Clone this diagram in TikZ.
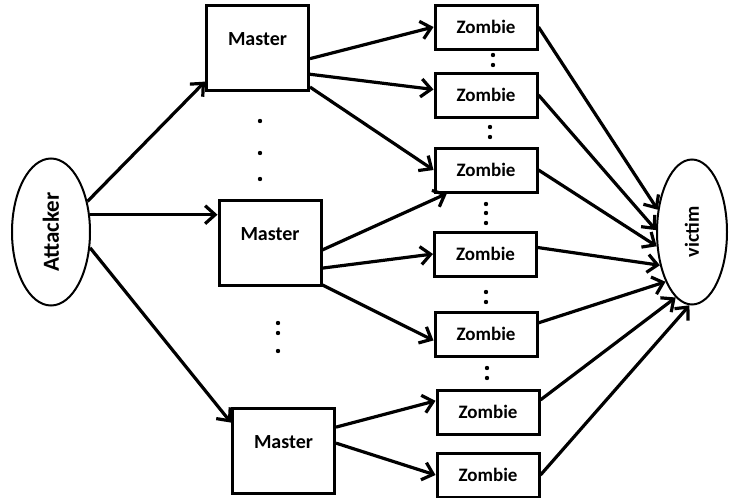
\documentclass[tikz,border=0pt]{standalone}
\usepackage{fontspec}
\setmainfont{Carlito}
\usepackage{graphicx}
\usetikzlibrary{shapes.geometric,arrows.meta}

\begin{document}
\begin{tikzpicture}[x=0.5pt, y=-0.5pt,
    every node/.style={inner sep=0pt, font=\bfseries\fontsize{10}{12}\selectfont},
    host/.style={draw, ellipse, line width=1pt, fill=white},
    master/.style={draw, line width=1.5pt, fill=white, minimum width=51pt, minimum height=42.5pt, text depth=8pt},
    zombie/.style={draw, line width=1.5pt, fill=white, minimum width=51pt, minimum height=22pt, font=\bfseries\fontsize{9.5}{11}\selectfont},
    link/.style={line width=1.6pt, -{Straight Barb[length=5pt, width=9pt]}}]
    \useasboundingbox (0,0) rectangle (729,498);

    \node[host, minimum width=39pt, minimum height=73.5pt, font=\bfseries\fontsize{11.5}{13}\selectfont] (attacker) at (51,232) {\rotatebox{90}{Attacker}};
    \node[host, minimum width=35pt, minimum height=72.5pt] (victim) at (692,232) {\rotatebox{90}{victim}};

    \node[master] (m1) at (257.5,47.5) {Master};
    \node[master] (m2) at (270,242.5) {Master};
    \node[master] (m3) at (283.5,450.5) {Master};

    \node[zombie] (z1) at (486,27) {Zombie};
    \node[zombie] (z2) at (486,95) {Zombie};
    \node[zombie] (z3) at (486,170) {Zombie};
    \node[zombie] (z4) at (485.5,254) {Zombie};
    \node[zombie] (z5) at (486,334) {Zombie};
    \node[zombie] (z6) at (488,412) {Zombie};
    \node[zombie] (z7) at (488,475) {Zombie};

    \foreach \px/\py in {260/121, 260/153, 260/179, 278/323, 278/333, 278/351,
                         493/55, 493/65, 490/127, 490/137, 486/204, 486/213, 486/223,
                         486/292, 486/302, 487/368, 487/378}
      \fill (\px,\py) circle (1.1pt);

    \draw[link] (attacker.40) -- (m1.213);
    \draw[link] (attacker.24) -- (attacker.24 -| m2.west);
    \draw[link] (attacker.-22) -- (m3.152);

    \draw[link] (m1.-12) -- (z1.west);
    \draw[link] (m1.-27) -- (z2.174);
    \draw[link] (m1.-37) -- (z3.west);
    \draw[link] (m2.-8) -- (z3.211);
    \draw[link] (m2.-26) -- (z4.west);
    \draw[link] (m2.-39) -- (z5.187);
    \draw[link] (m3.24) -- (z6.168);
    \draw[link] (m3.8) -- (z7.west);

    \draw[link] (z1.east) -- (victim.147);
    \draw[link] (z2.east) -- (victim.177);
    \draw[link] (z3.east) -- (victim.202);
    \draw[link] (z4.7) -- (victim.226);
    \draw[link] (z5.12) -- (victim.242);
    \draw[link] (z6.13) -- (victim.256);
    \draw[link] (z7.east) -- (victim.268);
\end{tikzpicture}
\end{document}
